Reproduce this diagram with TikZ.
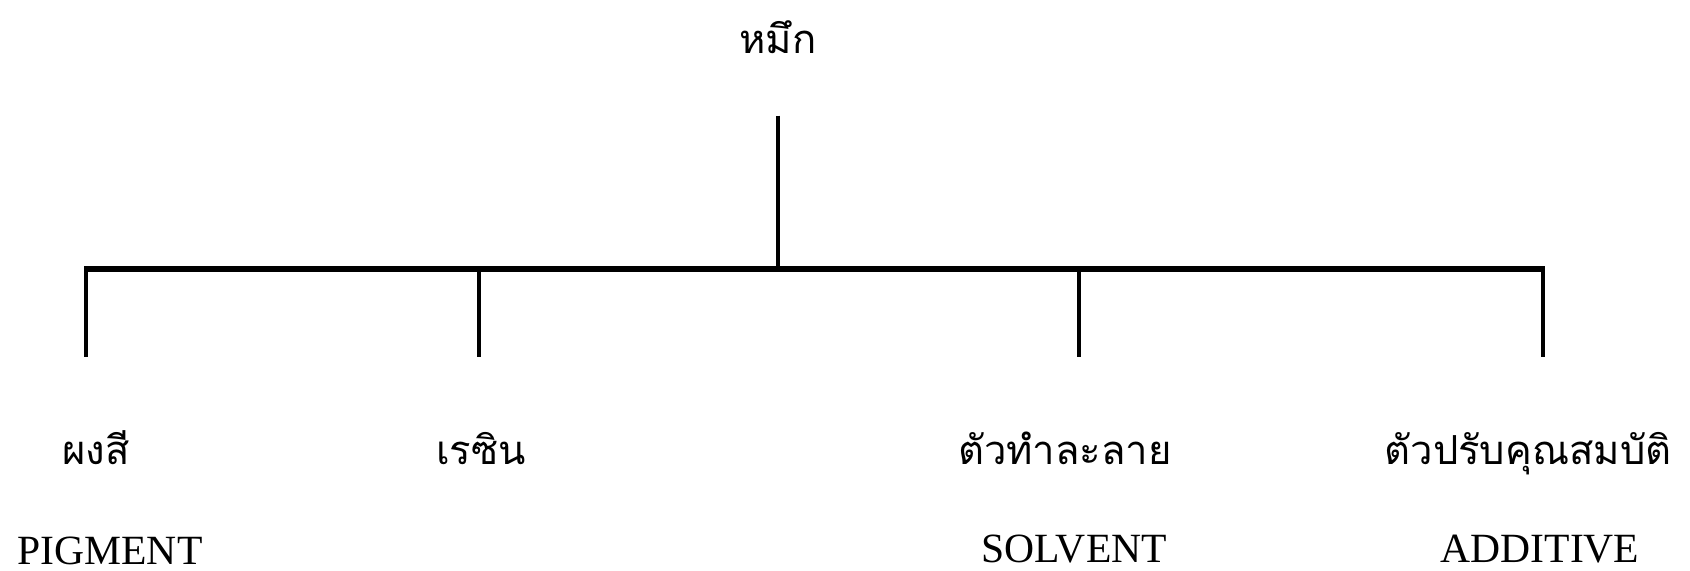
\documentclass[tikz,border=0pt]{standalone}
\usepackage{fontspec}
\setmainfont{Liberation Serif}
\newfontfamily\thaifont[Script=Thai]{Loma}
\usepackage{tikz}
\usetikzlibrary{positioning}
\definecolor{tink}{HTML}{000000}

\begin{document}
\begin{tikzpicture}[x=0.5pt,y=-0.5pt,
  every node/.style={inner sep=0pt,anchor=base,text=tink},
  thai/.style={font=\thaifont\fontsize{20}{24}\selectfont},
  eng/.style={font=\fontsize{20.8}{25}\selectfont},
  stem/.style={tink,line width=2pt},
  bar/.style={tink,line width=3.2pt,shorten <=-1pt,shorten >=-1pt}]
  \useasboundingbox (0,0) rectangle (1690,570);

  % root
  \node[thai] (ink) at (778,53) {หมึก};
  \coordinate (hub) at (778,269);

  % branches
  \foreach \name/\x in {pig/86,res/479,sol/1079,add/1543}{
    \coordinate (\name-top) at (\x,269);
    \coordinate (\name-end) at (\x,357);
  }

  \node[thai] (pigment) at (96,464) {ผงสี};
  \node[thai] (resin) at (481,464) {เรซิน};
  \node[thai] (solvent) at (1065,464) {ตัวทำละลาย};
  \node[thai] (additive) at (1528,464) {ตัวปรับคุณสมบัติ};

  \node[eng] (pigmentEn) at (110,564) {PIGMENT};
  \node[eng] (solventEn) at (1074,562) {SOLVENT};
  \node[eng] (additiveEn) at (1540,562) {ADDITIVE};

  \draw[stem,shorten <=31pt] (ink.south) -- (hub);
  \draw[bar] (pig-top) -- (add-top);
  \foreach \name in {pig,res,sol,add}
    \draw[stem] (\name-top) -- (\name-end);
\end{tikzpicture}
\end{document}
